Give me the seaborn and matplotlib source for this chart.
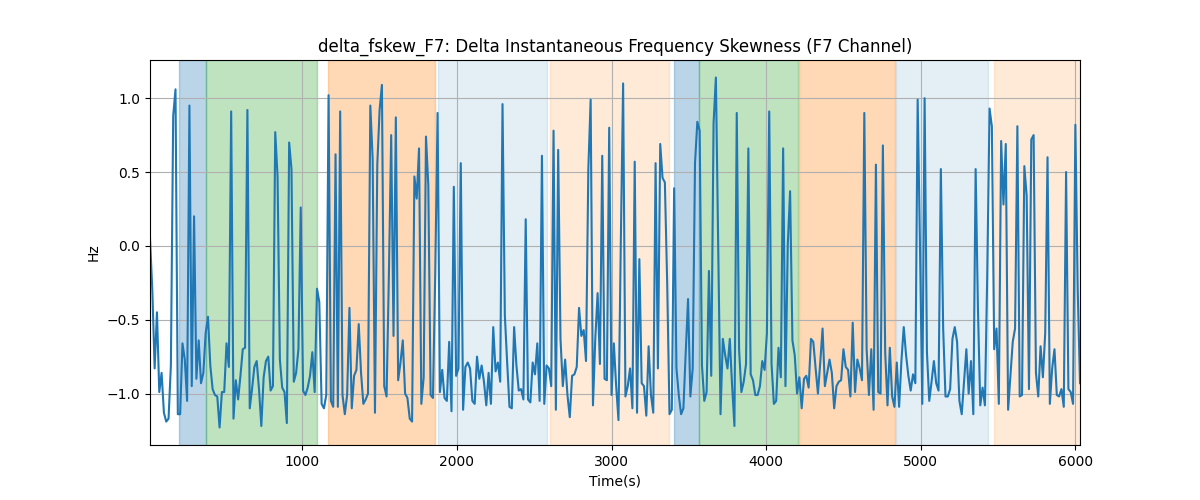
import numpy as np
import matplotlib
matplotlib.use('Agg')
import matplotlib.pyplot as plt
import seaborn as sns

# delta instantaneous frequency skewness, one value every 15 s
fskew = [
    0.05,
    -0.30, -0.83, -0.45, -0.99, -0.86, -1.13, -1.19, -1.17, -0.81, 0.88,
    1.06, -1.14, -1.14, -0.66, -0.77, -1.05, 0.95, -0.95, 0.20, -0.90,
    -0.64, -0.93, -0.86, -0.59, -0.48, -0.81, -0.97, -1.01, -1.02, -1.23,
    -0.99, -0.99, -0.66, -0.82, 0.91, -1.17, -0.91, -1.04, -0.88, -0.70,
    -0.69, 0.92, -1.10, -0.97, -0.82, -0.78, -0.97, -1.22, -0.89, -0.78,
    -0.75, -0.98, -0.95, 0.77, 0.47, -0.77, -0.96, -0.99, -1.20, 0.70,
    0.52, -0.92, -0.86, -0.70, 0.26, -0.98, -1.01, -0.96, -0.88, -0.72,
    -0.99, -0.29, -0.38, -1.07, -1.10, -1.01, 1.02, -1.05, -1.09, 0.62,
    -1.09, 0.91, -1.01, -1.14, -1.01, -0.42, -1.10, -0.88, -0.84, -0.53,
    -0.86, -1.07, -1.04, -1.00, 0.95, 0.59, -1.13, 0.55, 0.92, 1.09,
    -0.95, -1.02, -0.20, 0.75, -0.61, 0.87, -0.91, -0.79, -0.64, -1.00,
    -1.03, -1.17, -1.19, 0.47, 0.32, 0.66, -1.07, -0.89, 0.74, 0.41,
    -1.01, -1.03, -0.18, 0.90, -0.99, -0.84, -1.03, -1.05, -0.65, -1.12,
    0.40, -0.88, -0.83, 0.56, -1.11, -0.82, -0.79, -0.83, -1.05, -1.07,
    -0.75, -0.90, -0.81, -0.92, -1.08, -0.86, -1.07, -0.55, -0.85, -0.79,
    -0.92, 0.96, -0.47, -0.79, -1.09, -1.10, -0.55, -0.81, -0.98, -0.97,
    -1.04, 0.18, -1.04, -1.06, -0.79, -0.87, -0.66, -1.05, 0.61, -1.07,
    -0.81, -0.83, -0.95, 0.78, -1.11, 0.65, -0.63, -0.95, -0.77, -1.01,
    -1.16, -0.88, -0.87, -0.82, -0.42, -0.61, -0.57, -0.78, 0.52, 0.99,
    -1.08, -0.63, -0.32, -0.80, 0.61, -0.90, -0.91, 0.80, -1.01, -0.66,
    -0.95,
    -1.18, 0.02, 1.10, -1.02, -0.95, -0.83, -1.10, 0.57, -1.13, -0.09,
    -0.93, -0.95, -1.15, -0.68, -1.01, -1.13, 0.56, -0.83, 0.69, 0.46,
    0.43, -0.25, -1.14, -1.11, 0.39, -0.83, -1.01, -1.14, -1.10, -0.72,
    -0.36, -1.02, -0.83, 0.56, 0.84, 0.78, -0.81, -1.05, -0.99, -0.17,
    -0.88, 0.83, 1.14, 0.02, -1.14, -0.63, -0.74, -0.83, -0.63, -0.95,
    -1.22, 0.90, -0.70, -0.99, -0.92, -0.80, 0.66, -0.87, -0.91, -1.01,
    -1.01, -0.95, -0.78, -0.84, -0.59, 0.91, -0.80, -1.07, -1.05, -0.69,
    -0.89, 0.66, -0.95, 0.01, 0.37, -0.64, -0.74, -1.00, -0.89, -1.10,
    -0.90, -0.88, -0.96, -0.63, -0.65, -0.83, -1.00, -0.79, -0.56, -0.95,
    -0.86, -0.77, -0.86, -1.10, -0.95, -0.92, -0.91, -0.70, -0.82, -0.84,
    -1.02, -0.52, -0.99, -0.77, -0.83, -0.91, 0.90, -0.70, -1.01, -0.70,
    -1.11, 0.55, -0.99, -1.00, 0.68, -0.72, -1.08, -0.69, -1.02, -1.09,
    -0.79, -1.09, -0.78, -0.55, -0.74, -0.88, -0.98, -0.87, -0.93, 0.99,
    0.00, -1.07, 1.00, -0.72, -1.05, -0.92, -0.78, -0.93, -0.98, 0.52,
    -0.56, -1.02, -1.02, -0.97, -0.63, -0.55, -0.65, -1.05, -1.14, -0.92,
    -0.70,
    -1.00, -0.78, -1.14, 0.52, -0.43, -1.08, -0.96, -1.08, -0.20, 0.93,
    0.81, -0.70, -0.56, -1.07, 0.71, 0.28, 0.69, -1.11, -0.88, -0.65,
    -0.56, 0.81, -1.02, -1.01, 0.54, 0.34, -0.97, 0.72, 0.75, -0.86,
    -1.02, -0.68, -0.89, -0.59, 0.60, -1.07, -0.83, -0.70, -1.01, -1.02,
    -0.97, -1.09, 0.50, -0.97, -0.99, -1.07, 0.82, -0.29, -0.93,
]
step_s = 15

# shaded segments (seconds) and their kind
span_start = [200, 377, 1164, 1878, 2604, 3406, 3568, 4215, 4842, 5474]
span_end = [377, 1095, 1860, 2583, 3374, 3568, 4208, 4836, 5438, 6030]
span_kind = ['a', 'b', 'c', 'd', 'e', 'a', 'b', 'c', 'd', 'e']

kind_style = {
    'a': ('tab:blue', 0.3),
    'b': ('tab:green', 0.3),
    'c': ('tab:orange', 0.3),
    'd': ('tab:blue', 0.12),
    'e': ('tab:orange', 0.16),
}

time_s = np.arange(1, len(fskew) + 1) * step_s

fig, ax = plt.subplots(figsize=(12, 5))
for s, e, k in zip(span_start, span_end, span_kind):
    c, a = kind_style[k]
    ax.axvspan(s, e, color=c, alpha=a)

sns.lineplot(x=time_s, y=fskew, ax=ax, color='tab:blue', linewidth=1.5)
ax.set_xlim(time_s[0], time_s[-1])
ax.grid(True)
ax.set_title('delta_fskew_F7: Delta Instantaneous Frequency Skewness (F7 Channel)')
ax.set_xlabel('Time(s)')
ax.set_ylabel('Hz')
fig.savefig('out.png', dpi=100)
